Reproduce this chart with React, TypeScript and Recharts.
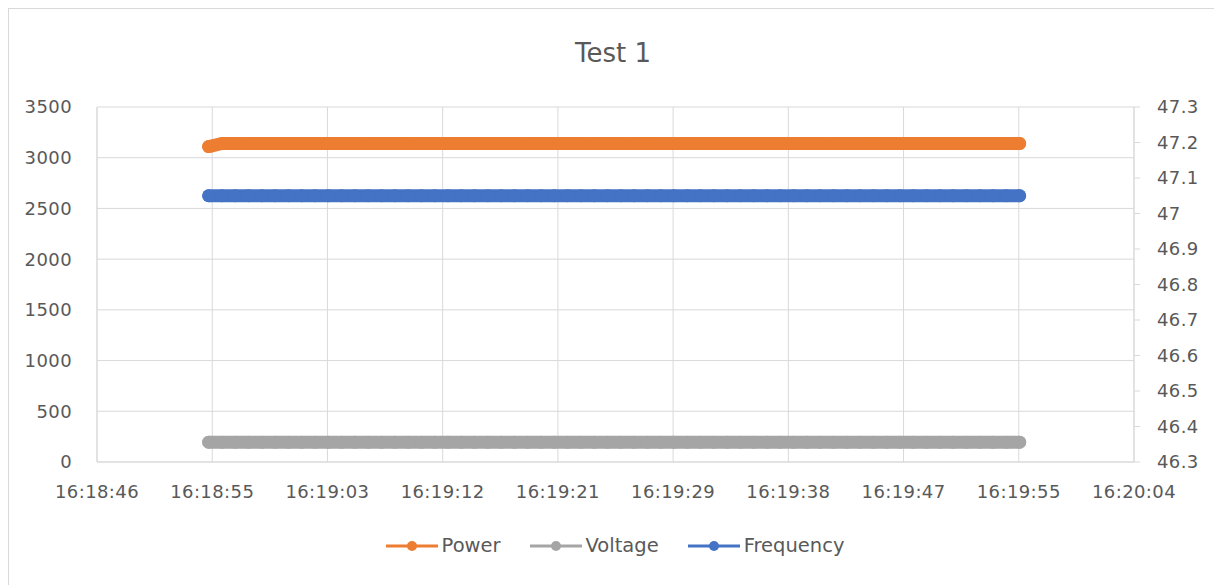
import React from 'react';
import { LineChart, Line, XAxis, YAxis, CartesianGrid, Legend } from 'recharts';

const FONT = '"DejaVu Sans", sans-serif';
const TEXT = '#595959';
const GRID = '#d9d9d9';

// seconds after 16:18:00
const times = [
  54.4, 55.4, 56.4, 57.4, 58.4, 59.4, 60.4, 61.4, 62.4, 63.4,
  64.4, 65.4, 66.4, 67.4, 68.4, 69.4, 70.4, 71.4, 72.4, 73.4,
  74.4, 75.4, 76.4, 77.4, 78.4, 79.4, 80.4, 81.4, 82.4, 83.4,
  84.4, 85.4, 86.4, 87.4, 88.4, 89.4, 90.4, 91.4, 92.4, 93.4,
  94.4, 95.4, 96.4, 97.4, 98.4, 99.4, 100.4, 101.4, 102.4, 103.4,
  104.4, 105.4, 106.4, 107.4, 108.4, 109.4, 110.4, 111.4, 112.4, 113.4,
  114.4, 115.4,
];

const power = [
  3110, 3140, 3140, 3140, 3140, 3140, 3140, 3140, 3140, 3140,
  3140, 3140, 3140, 3140, 3140, 3140, 3140, 3140, 3140, 3140,
  3140, 3140, 3140, 3140, 3140, 3140, 3140, 3140, 3140, 3140,
  3140, 3140, 3140, 3140, 3140, 3140, 3140, 3140, 3140, 3140,
  3140, 3140, 3140, 3140, 3140, 3140, 3140, 3140, 3140, 3140,
  3140, 3140, 3140, 3140, 3140, 3140, 3140, 3140, 3140, 3140,
  3140, 3140,
];

const voltage = [
  195, 195, 195, 195, 195, 195, 195, 195, 195, 195,
  195, 195, 195, 195, 195, 195, 195, 195, 195, 195,
  195, 195, 195, 195, 195, 195, 195, 195, 195, 195,
  195, 195, 195, 195, 195, 195, 195, 195, 195, 195,
  195, 195, 195, 195, 195, 195, 195, 195, 195, 195,
  195, 195, 195, 195, 195, 195, 195, 195, 195, 195,
  195, 195,
];

const frequency = [
  47.05, 47.05, 47.05, 47.05, 47.05, 47.05, 47.05, 47.05, 47.05, 47.05,
  47.05, 47.05, 47.05, 47.05, 47.05, 47.05, 47.05, 47.05, 47.05, 47.05,
  47.05, 47.05, 47.05, 47.05, 47.05, 47.05, 47.05, 47.05, 47.05, 47.05,
  47.05, 47.05, 47.05, 47.05, 47.05, 47.05, 47.05, 47.05, 47.05, 47.05,
  47.05, 47.05, 47.05, 47.05, 47.05, 47.05, 47.05, 47.05, 47.05, 47.05,
  47.05, 47.05, 47.05, 47.05, 47.05, 47.05, 47.05, 47.05, 47.05, 47.05,
  47.05, 47.05,
];

const xTicks = [46, 54.667, 63.333, 72, 80.667, 89.333, 98, 106.667, 115.333, 124];
const xTickLabels = [
  '16:18:46', '16:18:55', '16:19:03', '16:19:12', '16:19:21',
  '16:19:29', '16:19:38', '16:19:47', '16:19:55', '16:20:04',
];
const leftTicks = [0, 500, 1000, 1500, 2000, 2500, 3000, 3500];
const rightTicks = [46.3, 46.4, 46.5, 46.6, 46.7, 46.8, 46.9, 47, 47.1, 47.2, 47.3];

const seriesNames = ['Power', 'Voltage', 'Frequency'];
const seriesColors = ['#ED7D31', '#A5A5A5', '#4472C4'];

const data = times.map((t, i) => ({
  t,
  power: power[i],
  voltage: voltage[i],
  frequency: frequency[i],
}));

const tickStyle = { fontFamily: FONT, fontSize: 18, fill: TEXT, letterSpacing: 0.4 };

const renderLegend = () => (
  <div
    style={{
      display: 'flex',
      justifyContent: 'center',
      alignItems: 'center',
      fontFamily: FONT,
      fontSize: 19.5,
      color: TEXT,
      paddingLeft: 4,
    }}
  >
    {seriesNames.map((name, i) => (
      <div
        key={name}
        style={{ display: 'flex', alignItems: 'center', marginRight: i < seriesNames.length - 1 ? 29 : 0 }}
      >
        <svg width={52} height={14} style={{ display: 'block' }}>
          <line x1={0} y1={7} x2={52} y2={7} stroke={seriesColors[i]} strokeWidth={3} />
          <circle cx={26} cy={7} r={5} fill={seriesColors[i]} />
        </svg>
        <span style={{ marginLeft: 4, lineHeight: '22px' }}>{name}</span>
      </div>
    ))}
  </div>
);

export default function App() {
  return (
    <div style={{ position: 'relative', width: 1214, height: 577 }}>
      <style>{'body{overflow:hidden}'}</style>
      <div
        style={{
          position: 'absolute',
          left: 0,
          top: 0,
          width: 1210,
          height: 620,
          border: `1px solid ${GRID}`,
          boxSizing: 'border-box',
        }}
      />
      <div
        style={{
          position: 'absolute',
          left: 0,
          top: 32,
          width: 1210,
          textAlign: 'center',
          fontFamily: FONT,
          fontSize: 26,
          lineHeight: '26px',
          color: TEXT,
        }}
      >
        Test 1
      </div>
      <div style={{ position: 'absolute', left: 0, top: 0 }}>
        <LineChart
          width={1214}
          height={577}
          data={data}
          margin={{ top: 99, right: 0, bottom: 93, left: 0 }}
        >
          <CartesianGrid yAxisId="left" stroke={GRID} strokeWidth={1} />
          <XAxis
            type="number"
            dataKey="t"
            domain={[46, 124]}
            ticks={xTicks}
            interval={0}
            height={30}
            tickFormatter={(v: number, i: number) => xTickLabels[i]}
            tick={tickStyle}
            tickLine={false}
            tickSize={0}
            tickMargin={23}
            axisLine={{ stroke: GRID }}
            allowDataOverflow
          />
          <YAxis
            yAxisId="left"
            orientation="left"
            domain={[0, 3500]}
            ticks={leftTicks}
            interval={0}
            width={89}
            tick={tickStyle}
            tickLine={false}
            tickSize={0}
            tickMargin={25}
            axisLine={{ stroke: GRID }}
            allowDataOverflow
          />
          <YAxis
            yAxisId="right"
            orientation="right"
            domain={[46.3, 47.3]}
            ticks={rightTicks}
            interval={0}
            width={88}
            tick={{ ...tickStyle, textAnchor: 'start' }}
            tickLine={{ stroke: GRID }}
            tickSize={6}
            tickMargin={17}
            axisLine={{ stroke: GRID }}
            allowDataOverflow
          />
          <Legend
            content={renderLegend}
            wrapperStyle={{ position: 'absolute', left: 0, top: 527, width: 1210, height: 0, overflow: 'visible' }}
          />
          <Line
            yAxisId="left"
            dataKey="power"
            name="Power"
            stroke={seriesColors[0]}
            strokeWidth={13}
            strokeLinecap="round"
            strokeLinejoin="round"
            dot={{ r: 6.5, fill: seriesColors[0], stroke: 'none' }}
            activeDot={false}
            isAnimationActive={false}
          />
          <Line
            yAxisId="left"
            dataKey="voltage"
            name="Voltage"
            stroke={seriesColors[1]}
            strokeWidth={13}
            strokeLinecap="round"
            strokeLinejoin="round"
            dot={{ r: 6.5, fill: seriesColors[1], stroke: 'none' }}
            activeDot={false}
            isAnimationActive={false}
          />
          <Line
            yAxisId="right"
            dataKey="frequency"
            name="Frequency"
            stroke={seriesColors[2]}
            strokeWidth={13}
            strokeLinecap="round"
            strokeLinejoin="round"
            dot={{ r: 6.5, fill: seriesColors[2], stroke: 'none' }}
            activeDot={false}
            isAnimationActive={false}
          />
        </LineChart>
      </div>
    </div>
  );
}
